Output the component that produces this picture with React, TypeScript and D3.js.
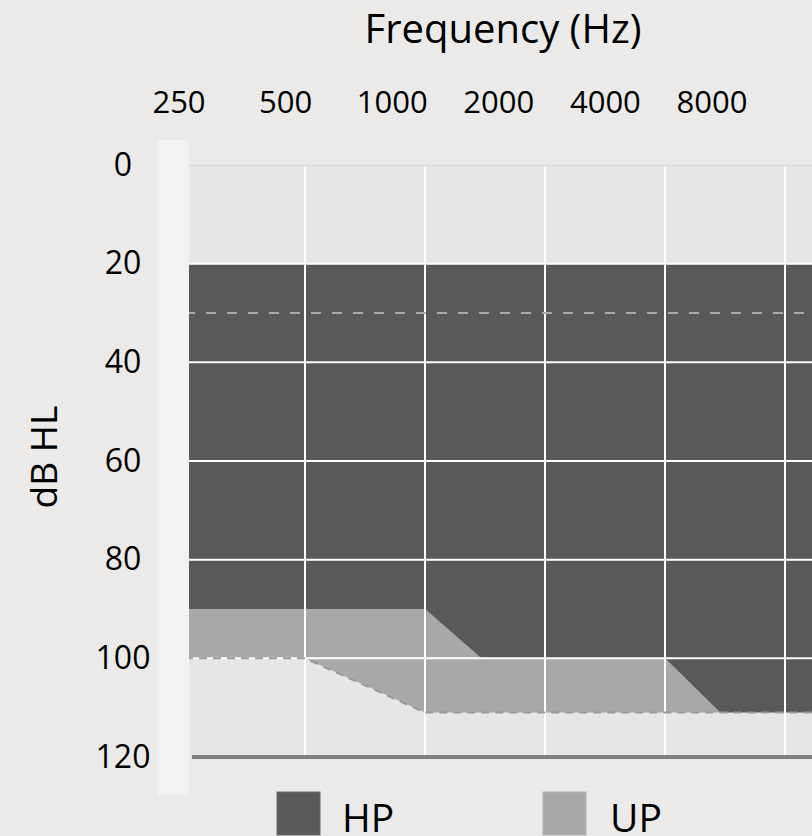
import { useMemo } from 'react';
import * as d3 from 'd3';

const WIDTH = 812;
const HEIGHT = 836;

// frequency labels along the top
const freqLabels = ['250', '500', '1000', '2000', '4000', '8000'];
// dB HL ticks
const dbTicks = [0, 20, 40, 60, 80, 100, 120];
const gridDb = [20, 40, 60, 80, 100];
const gridCols = [1, 2, 3, 4, 5];

// HP band: top at 20 dB, bottom edge (octave position, dB)
const hpTop = 20;
const hpBottom: [number, number][] = [
  [0, 90], [2, 90], [2.47, 100], [4, 100], [4.46, 111], [5.4, 111],
];
// UP band lower edge (octave position, dB)
const upBottom: [number, number][] = [
  [0, 100], [1, 100], [2, 111], [5.4, 111],
];
const dashedDb = 30;

const FONT = "'Open Sans', sans-serif";
const DARK = '#595959';
const LIGHT = '#a8a8a8';

export default function App() {
  const x = useMemo(() => d3.scaleLinear().domain([0, 5]).range([185, 785]), []);
  const y = useMemo(() => d3.scaleLinear().domain([0, 120]).range([165, 757]), []);
  const xLab = d3.scalePoint<string>().domain(freqLabels).range([179, 712]);

  const plotRight = x(5.4);

  const line = d3.line<[number, number]>().x(d => x(d[0])).y(d => y(d[1]));

  // HP area polygon: top edge at hpTop then follow bottom back
  const hpPath =
    'M' + x(0) + ',' + y(hpTop) + 'L' + plotRight + ',' + y(hpTop) +
    'L' + [...hpBottom].reverse().map(d => x(d[0]) + ',' + y(d[1])).join('L') + 'Z';

  // UP area: between HP bottom and UP bottom
  const upPath =
    'M' + hpBottom.map(d => x(d[0]) + ',' + y(d[1])).join('L') +
    'L' + [...upBottom].reverse().map(d => x(d[0]) + ',' + y(d[1])).join('L') + 'Z';

  return (
    <svg width={WIDTH} height={HEIGHT} style={{ position: 'absolute', left: 0, top: 0, display: 'block' }}>
      <rect x={0} y={0} width={WIDTH} height={HEIGHT} fill="#ebeae8" />

      {/* plot background */}
      <rect x={x(0)} y={y(0)} width={plotRight - x(0)} height={y(120) - y(0)} fill="#e6e6e6" />
      <line x1={x(0)} x2={plotRight} y1={y(0) + 0.5} y2={y(0) + 0.5} stroke="#d4d4d4" strokeWidth={1} />

      <path d={upPath} fill={LIGHT} />
      <path d={hpPath} fill={DARK} />

      {/* grid */}
      {gridDb.map(v => (
        <line key={'h' + v} x1={x(0)} x2={plotRight} y1={y(v)} y2={y(v)} stroke="#fff" strokeWidth={2} />
      ))}
      {gridCols.map(c => (
        <line key={'v' + c} x1={x(c)} x2={x(c)} y1={y(0) + 2} y2={y(120)} stroke="#fff" strokeWidth={2} />
      ))}

      <line x1={x(0)} x2={plotRight} y1={y(dashedDb)} y2={y(dashedDb)} stroke="#aaaaaa" strokeWidth={2} strokeDasharray="10,11" />
      <path d={line(upBottom)!} fill="none" stroke="#999" strokeWidth={2} strokeDasharray="8,6" />

      <line x1={192} x2={plotRight} y1={y(120)} y2={y(120)} stroke="#808080" strokeWidth={4} />

      {/* left strip */}
      <rect x={158} y={140} width={31} height={655} fill="#f2f2f2" />

      {/* axis labels */}
      <text x={503} y={43} textAnchor="middle" fontFamily={FONT} fontSize={40} fill="#000">Frequency (Hz)</text>
      {freqLabels.map(f => (
        <text key={f} x={xLab(f)} y={113} textAnchor="middle" fontFamily={FONT} fontSize={31} fill="#000">{f}</text>
      ))}
      {dbTicks.map(v => (
        <text key={v} x={123} y={y(v) - 2} textAnchor="middle" dominantBaseline="central" fontFamily={FONT} fontSize={32} fill="#000">{v}</text>
      ))}
      <text transform={'translate(57,457) rotate(-90)'} textAnchor="middle" fontFamily={FONT} fontSize={37} fill="#000">dB HL</text>

      {/* legend */}
      <rect x={277} y={792} width={43} height={43} fill={DARK} stroke="#6a6a6a" strokeWidth={1} />
      <text x={342} y={832} fontFamily={FONT} fontSize={39} fill="#000">HP</text>
      <rect x={543} y={792} width={43} height={43} fill={LIGHT} stroke="#b4b4b4" strokeWidth={1} />
      <text x={610} y={832} fontFamily={FONT} fontSize={39} fill="#000">UP</text>
    </svg>
  );
}
